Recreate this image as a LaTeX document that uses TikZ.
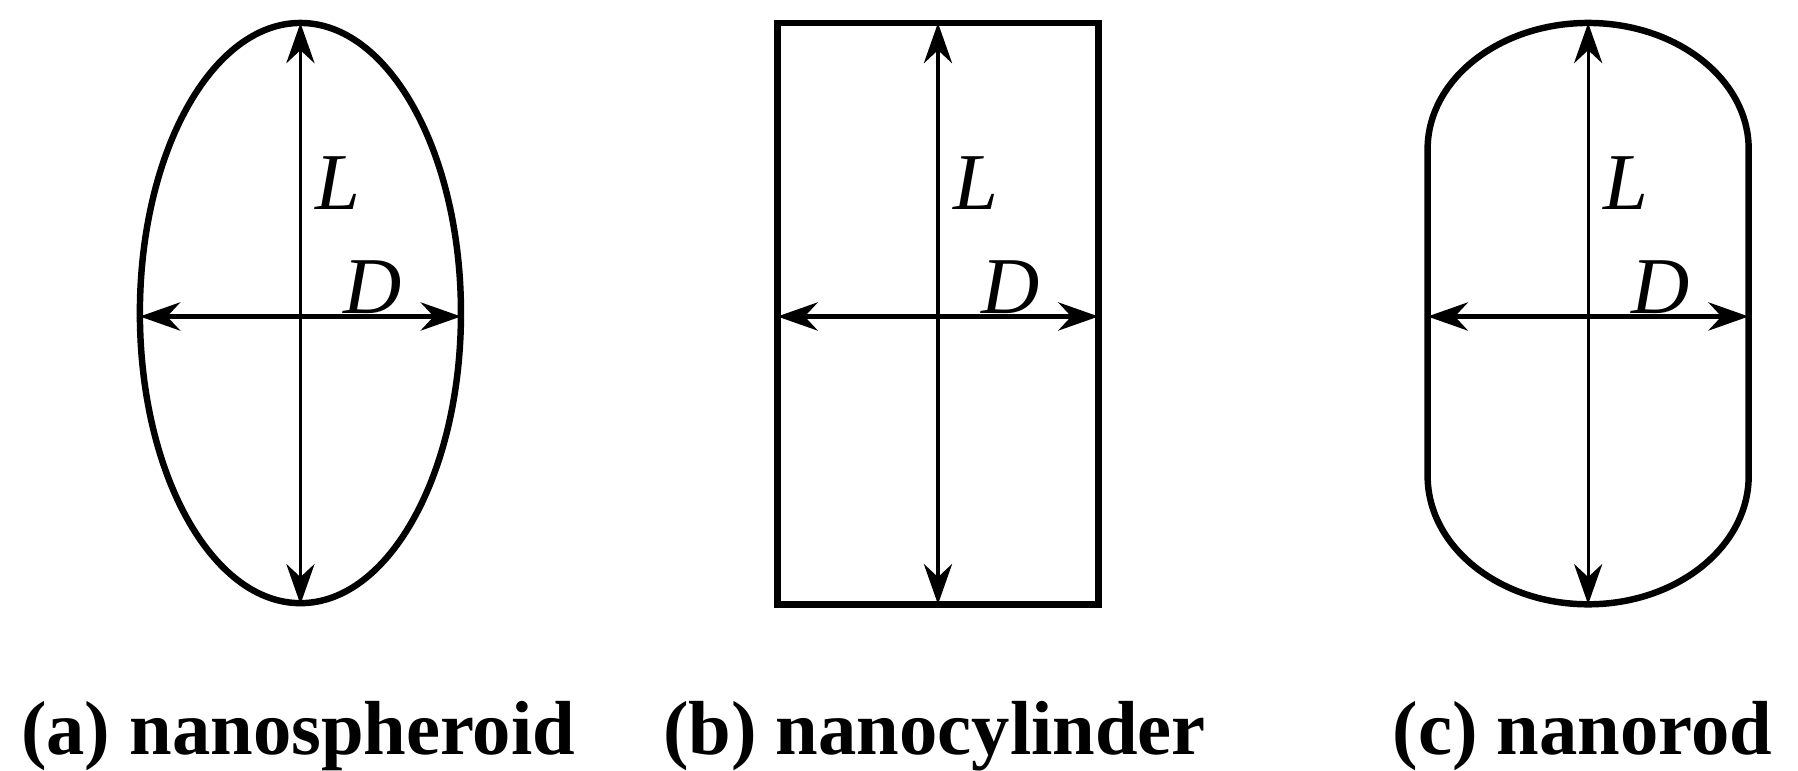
\documentclass[tikz,border=0pt]{standalone}
\usepackage{fontspec}
\setmainfont{Liberation Serif}
\usetikzlibrary{arrows.meta}
\begin{document}
\begin{tikzpicture}[x=0.01cm,y=-0.01cm,
  outline/.style={line width=1.6pt},
  dim/.style={line width=0.8pt,{Stealth[length=10pt,width=7pt]}-{Stealth[length=10pt,width=7pt]}},
  dimh/.style={dim,line width=1.1pt},
  lab/.style={font=\fontsize{20}{24}\selectfont\itshape,inner sep=0pt},
  captext/.style={font=\fontsize{19}{22}\selectfont\bfseries,inner sep=0pt}]
\useasboundingbox (0,0) rectangle (1568,672);
% (a)
\draw[outline] (262,273) ellipse [x radius=140,y radius=253];
\coordinate (aT) at (262,20); \coordinate (aB) at (262,527);
\coordinate (aL) at (122,276); \coordinate (aR) at (402,276);
\draw[dim] (aT) -- (aB); \draw[dimh] (aL) -- (aR);
\node[lab] (La) at (295,160) {L};
\node[lab] (Da) at (325,250) {D};
\node[captext] (ca) at (260,642) {(a) nanospheroid};
% (b)
\draw[outline] (678,20) rectangle (958,527);
\coordinate (bT) at (818,20); \coordinate (bB) at (818,527);
\coordinate (bL) at (678,276); \coordinate (bR) at (958,276);
\draw[dim] (bT) -- (bB); \draw[dimh] (bL) -- (bR);
\node[lab] (Lb) at (851,160) {L};
\node[lab] (Db) at (881,250) {D};
\node[captext] (cb) at (815,642) {(b) nanocylinder};
% (c)
\draw[outline] (1245,130) -- (1245,415) arc[start angle=180,end angle=0,x radius=140,y radius=112]
  -- (1525,130) arc[start angle=0,end angle=-180,x radius=140,y radius=110] -- cycle;
\coordinate (cT) at (1385,20); \coordinate (cB) at (1385,527);
\coordinate (cL) at (1245,276); \coordinate (cR) at (1525,276);
\draw[dim] (cT) -- (cB); \draw[dimh] (cL) -- (cR);
\node[lab] (Lc) at (1418,160) {L};
\node[lab] (Dc) at (1448,250) {D};
\node[captext] (cc) at (1380,642) {(c) nanorod};
\end{tikzpicture}
\end{document}
